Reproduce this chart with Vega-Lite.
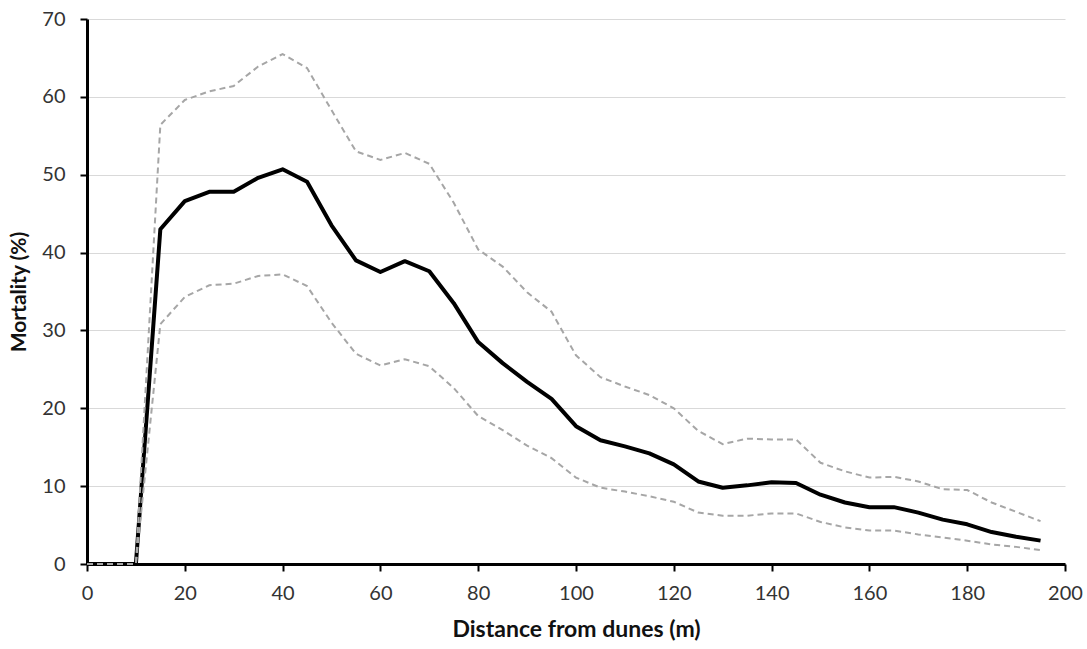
{
  "$schema": "https://vega.github.io/schema/vega-lite/v6.json",
  "width": 978,
  "height": 545,
  "autosize": {"type": "none"},
  "padding": {"left": 87, "top": 19, "right": 22, "bottom": 85},
  "background": "white",
  "config": {
    "view": {"stroke": null},
    "font": "Lato"
  },
  "data": {
    "values": [
      {"x": 0, "mean": 0, "upper": 0, "lower": 0},
      {"x": 5, "mean": 0, "upper": 0, "lower": 0},
      {"x": 10, "mean": 0, "upper": 0, "lower": 0},
      {"x": 15, "mean": 43.0, "upper": 56.4, "lower": 30.8},
      {"x": 20, "mean": 46.6, "upper": 59.6, "lower": 34.3},
      {"x": 25, "mean": 47.8, "upper": 60.7, "lower": 35.8},
      {"x": 30, "mean": 47.8, "upper": 61.4, "lower": 36.0},
      {"x": 35, "mean": 49.6, "upper": 63.9, "lower": 37.0},
      {"x": 40, "mean": 50.7, "upper": 65.5, "lower": 37.2},
      {"x": 45, "mean": 49.1, "upper": 63.7, "lower": 35.7},
      {"x": 50, "mean": 43.5, "upper": 58.3, "lower": 31.0},
      {"x": 55, "mean": 39.0, "upper": 53.0, "lower": 27.0},
      {"x": 60, "mean": 37.5, "upper": 51.9, "lower": 25.5},
      {"x": 65, "mean": 38.9, "upper": 52.8, "lower": 26.3},
      {"x": 70, "mean": 37.6, "upper": 51.4, "lower": 25.4},
      {"x": 75, "mean": 33.5, "upper": 46.4, "lower": 22.6},
      {"x": 80, "mean": 28.5, "upper": 40.4, "lower": 19.0},
      {"x": 85, "mean": 25.8, "upper": 38.2, "lower": 17.2},
      {"x": 90, "mean": 23.4, "upper": 34.9, "lower": 15.2},
      {"x": 95, "mean": 21.2, "upper": 32.4, "lower": 13.6},
      {"x": 100, "mean": 17.7, "upper": 26.8, "lower": 11.1},
      {"x": 105, "mean": 15.9, "upper": 24.0, "lower": 9.8},
      {"x": 110, "mean": 15.1, "upper": 22.8, "lower": 9.3},
      {"x": 115, "mean": 14.2, "upper": 21.7, "lower": 8.7},
      {"x": 120, "mean": 12.8, "upper": 20.0, "lower": 8.0},
      {"x": 125, "mean": 10.6, "upper": 17.1, "lower": 6.6},
      {"x": 130, "mean": 9.8, "upper": 15.4, "lower": 6.2},
      {"x": 135, "mean": 10.1, "upper": 16.1, "lower": 6.2},
      {"x": 140, "mean": 10.5, "upper": 16.0, "lower": 6.5},
      {"x": 145, "mean": 10.4, "upper": 16.0, "lower": 6.5},
      {"x": 150, "mean": 8.9, "upper": 13.0, "lower": 5.4},
      {"x": 155, "mean": 7.9, "upper": 11.9, "lower": 4.7},
      {"x": 160, "mean": 7.3, "upper": 11.1, "lower": 4.3},
      {"x": 165, "mean": 7.3, "upper": 11.2, "lower": 4.3},
      {"x": 170, "mean": 6.6, "upper": 10.6, "lower": 3.8},
      {"x": 175, "mean": 5.7, "upper": 9.6, "lower": 3.4},
      {"x": 180, "mean": 5.1, "upper": 9.5, "lower": 3.0},
      {"x": 185, "mean": 4.1, "upper": 7.9, "lower": 2.5},
      {"x": 190, "mean": 3.5, "upper": 6.7, "lower": 2.2},
      {"x": 195, "mean": 3.0, "upper": 5.5, "lower": 1.8}
    ]
  },
  "encoding": {
    "x": {
      "field": "x",
      "type": "quantitative",
      "scale": {"domain": [0, 200], "nice": false, "zero": true},
      "axis": {
        "title": "Distance from dunes (m)",
        "values": [0, 20, 40, 60, 80, 100, 120, 140, 160, 180, 200],
        "grid": false,
        "labelFlush": false,
        "domainColor": "black",
        "domainWidth": 3,
        "tickColor": "black",
        "tickWidth": 2,
        "tickSize": 7,
        "labelFontSize": 20,
        "labelColor": "#333333",
        "labelPadding": 12,
        "titleFontSize": 23,
        "titleFontWeight": "bold",
        "titleColor": "#111111",
        "titlePadding": 15
      }
    }
  },
  "layer": [
    {
      "mark": {"type": "line", "color": "black", "strokeWidth": 4, "strokeJoin": "round"},
      "encoding": {
        "y": {
          "field": "mean",
          "type": "quantitative",
          "scale": {"domain": [0, 70], "nice": false},
          "axis": {
            "title": "Mortality (%)",
            "values": [0, 10, 20, 30, 40, 50, 60, 70],
            "grid": true,
            "gridColor": "#d9d9d9",
            "gridWidth": 1.2,
            "domainColor": "black",
            "domainWidth": 3,
            "tickColor": "black",
            "tickWidth": 2,
            "tickSize": 7,
            "labelFontSize": 20,
            "labelColor": "#333333",
            "labelPadding": 15,
            "titleFontSize": 21,
            "titleFontWeight": "bold",
            "titleColor": "#111111",
            "titlePadding": 12
          }
        }
      }
    },
    {
      "mark": {"type": "line", "color": "#a6a6a6", "strokeWidth": 2, "strokeDash": [6, 4]},
      "encoding": {"y": {"field": "upper", "type": "quantitative"}}
    },
    {
      "mark": {"type": "line", "color": "#a6a6a6", "strokeWidth": 2, "strokeDash": [6, 4]},
      "encoding": {"y": {"field": "lower", "type": "quantitative"}}
    }
  ]
}
